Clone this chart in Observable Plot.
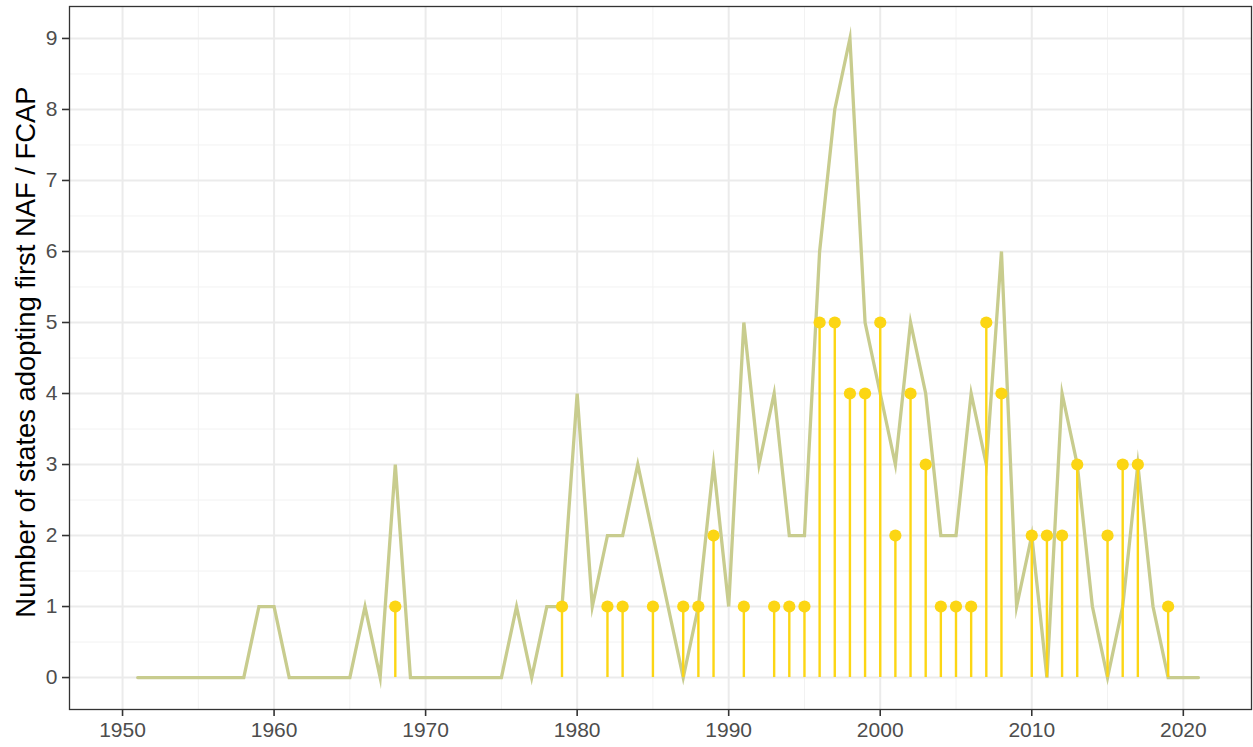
<!DOCTYPE html>
<html>
<head>
<meta charset="utf-8">
<script src="https://cdn.jsdelivr.net/npm/d3@7"></script>
<script src="https://cdn.jsdelivr.net/npm/@observablehq/plot@0.6"></script>
<style>
  html, body { margin: 0; padding: 0; background: #fff; }
  #chart svg { display: block; }
</style>
</head>
<body>
<div id="chart"></div>
<script>
// Line series: number of states adopting first NAF / FCAP, by year
const lineYears = [1951,1952,1953,1954,1955,1956,1957,1958,1959,1960,
  1961,1962,1963,1964,1965,1966,1967,1968,1969,1970,
  1971,1972,1973,1974,1975,1976,1977,1978,1979,1980,
  1981,1982,1983,1984,1985,1986,1987,1988,1989,1990,
  1991,1992,1993,1994,1995,1996,1997,1998,1999,2000,
  2001,2002,2003,2004,2005,2006,2007,2008,2009,2010,
  2011,2012,2013,2014,2015,2016,2017,2018,2019,2020,2021];
const lineValues = [0,0,0,0,0,0,0,0,1,1,
  0,0,0,0,0,1,0,3,0,0,
  0,0,0,0,0,1,0,1,1,4,
  1,2,2,3,2,1,0,1,3,1,
  5,3,4,2,2,6,8,9,5,4,
  3,5,4,2,2,4,3,6,1,2,
  0,4,3,1,0,1,3,1,0,0,0];

// Lollipop series
const stemYears = [1968,1979,1982,1983,1985,1987,1988,1989,1991,1993,1994,1995,
  1996,1997,1998,1999,2000,2001,2002,2003,2004,2005,2006,2007,2008,
  2010,2011,2012,2013,2015,2016,2017,2019];
const stemValues = [1,1,1,1,1,1,1,2,1,1,1,1,
  5,5,4,4,5,2,4,3,1,1,1,5,4,
  2,2,2,3,2,3,3,1];

const xTicks = [1950,1960,1970,1980,1990,2000,2010,2020];
const xMinor = [1955,1965,1975,1985,1995,2005,2015];
const yTicks = [0,1,2,3,4,5,6,7,8,9];
const yMinor = [0.5,1.5,2.5,3.5,4.5,5.5,6.5,7.5,8.5];
const yTitle = "Number of states adopting first NAF / FCAP";

const lineData = lineYears.map((year, i) => ({year, value: lineValues[i]}));
const stemData = stemYears.map((year, i) => ({year, value: stemValues[i]}));

const FONT = "'Liberation Sans', Arial, Helvetica, sans-serif";
const LINE_COLOR = "#c8cc8e";
const STEM_COLOR = "#fcd614";

const chart = Plot.plot({
  width: 1253,
  height: 747,
  marginLeft: 69,
  marginRight: 2,
  marginTop: 6,
  marginBottom: 38,
  style: {fontFamily: FONT, fontSize: "21px", background: "#fff", overflow: "visible"},
  x: {domain: [1946.5, 2024.5]},
  y: {domain: [-0.45, 9.45]},
  marks: [
    Plot.ruleY(yMinor, {stroke: "#f2f2f2", strokeWidth: 1}),
    Plot.ruleX(xMinor, {stroke: "#f2f2f2", strokeWidth: 1}),
    Plot.ruleY(yTicks, {stroke: "#ebebeb", strokeWidth: 2}),
    Plot.ruleX(xTicks, {stroke: "#ebebeb", strokeWidth: 2}),
    Plot.line(lineData, {x: "year", y: "value", stroke: LINE_COLOR, strokeWidth: 3.3, strokeLinejoin: "miter", strokeMiterlimit: 10}),
    Plot.ruleX(stemData, {x: "year", y1: 0, y2: "value", stroke: STEM_COLOR, strokeWidth: 2.4}),
    Plot.dot(stemData, {x: "year", y: "value", r: 6.1, fill: STEM_COLOR, stroke: "none"}),
    Plot.frame({stroke: "#333333", strokeWidth: 1.3}),
    Plot.axisX({ticks: xTicks, tickFormat: d => String(d), tickSize: 7, tickPadding: 6, fontSize: 21,
      stroke: "#333333", strokeWidth: 1.6, fill: "#4d4d4d", label: null}),
    Plot.axisY({ticks: yTicks, tickFormat: d => String(d), tickSize: 7, tickPadding: 5, fontSize: 21,
      stroke: "#333333", strokeWidth: 1.6, fill: "#4d4d4d", label: null}),
    Plot.text([yTitle], {frameAnchor: "left", dx: -43, dy: -6, rotate: -90, text: d => d,
      fontSize: 27.4, fill: "#000", textAnchor: "middle", lineAnchor: "middle"})
  ]
});

document.getElementById("chart").appendChild(chart);
</script>
</body>
</html>
